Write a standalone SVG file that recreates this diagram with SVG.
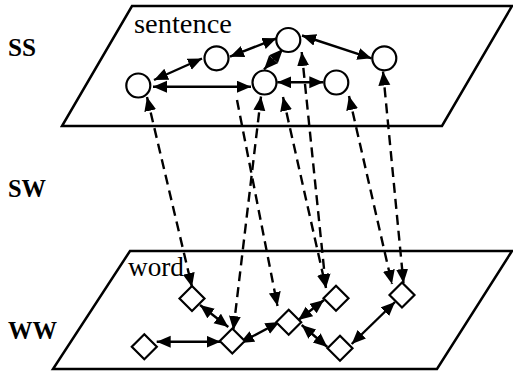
<svg xmlns="http://www.w3.org/2000/svg" width="513" height="374" viewBox="0 0 513 374">
  <style>
    .plane { fill: #fff; stroke: #000; stroke-width: 2.5; }
    .node { fill: #fff; stroke: #000; stroke-width: 2.2; }
    .link { fill: none; stroke: #000; stroke-width: 2.4; }
    .dash { stroke-dasharray: 10 6; }
    .lbl { font-family: "Liberation Serif", "Times New Roman", "DejaVu Serif", serif; fill: #000; }
    .side { font-size: 25px; font-weight: bold; }
    .plabel { font-size: 28px; }
  </style>
  <defs>
    <marker id="head" markerUnits="userSpaceOnUse" markerWidth="15" markerHeight="13" refX="14" refY="6" orient="auto-start-reverse">
      <path d="M0,0 L14,6 L0,12 z" fill="#000"/>
    </marker>
  </defs>

  <rect width="513" height="374" fill="#fff"/>

  <!-- layer labels -->
  <text class="lbl side" x="8" y="56" textLength="28" lengthAdjust="spacingAndGlyphs">SS</text>
  <text class="lbl side" x="8" y="197" textLength="38" lengthAdjust="spacingAndGlyphs">SW</text>
  <text class="lbl side" x="8" y="339" textLength="49" lengthAdjust="spacingAndGlyphs">WW</text>

  <!-- planes -->
  <g id="plane-sentence">
    <polygon class="plane" points="132,6 512,6 442,126 62,126"/>
    <text class="lbl plabel" x="134" y="32.5" textLength="98" lengthAdjust="spacingAndGlyphs">sentence</text>
  </g>
  <g id="plane-word">
    <polygon class="plane" points="130,251 512,251 437,369 53,369"/>
    <text class="lbl plabel" x="128" y="275.5" textLength="56" lengthAdjust="spacingAndGlyphs">word</text>
  </g>

  <!-- connectors -->
  <g id="connectors">
    <!-- sentence level -->
    <line class="link" x1="154" y1="80" x2="202" y2="58.5" marker-start="url(#head)" marker-end="url(#head)"/>
    <line class="link" x1="153" y1="86.7" x2="251" y2="86.7" marker-start="url(#head)" marker-end="url(#head)"/>
    <line class="link" x1="230" y1="56.7" x2="276.5" y2="38.3" marker-start="url(#head)" marker-end="url(#head)"/>
    <line class="link" x1="283" y1="49" x2="264" y2="69.5" marker-start="url(#head)" marker-end="url(#head)"/>
    <line class="link" x1="302" y1="35.5" x2="371.5" y2="58.3" marker-start="url(#head)" marker-end="url(#head)"/>
    <line class="link" x1="277.3" y1="82.3" x2="323.3" y2="82.3" marker-start="url(#head)" marker-end="url(#head)"/>

    <!-- word level -->
    <line class="link" x1="200" y1="305" x2="228.3" y2="327" marker-start="url(#head)" marker-end="url(#head)"/>
    <line class="link" x1="156.7" y1="341.7" x2="220.5" y2="341.7" marker-start="url(#head)" marker-end="url(#head)"/>
    <line class="link" x1="240" y1="343" x2="279.5" y2="322" marker-start="url(#head)" marker-end="url(#head)"/>
    <line class="link" x1="298.3" y1="320" x2="324" y2="300" marker-start="url(#head)" marker-end="url(#head)"/>
    <line class="link" x1="301.7" y1="325" x2="327.3" y2="347" marker-start="url(#head)" marker-end="url(#head)"/>
    <line class="link" x1="351.7" y1="344" x2="395" y2="302" marker-start="url(#head)" marker-end="url(#head)"/>

    <!-- between levels -->
    <line class="link dash" x1="147" y1="97" x2="192" y2="287" marker-start="url(#head)" marker-end="url(#head)"/>
    <line class="link dash" x1="237" y1="100" x2="277.5" y2="306" marker-end="url(#head)"/>
    <line class="link dash" x1="261" y1="96.5" x2="233.3" y2="330" marker-start="url(#head)" marker-end="url(#head)"/>
    <line class="link dash" x1="283" y1="97" x2="326" y2="288" marker-start="url(#head)" marker-end="url(#head)"/>
    <line class="link dash" x1="301.7" y1="52" x2="326" y2="288" marker-start="url(#head)" marker-end="url(#head)"/>
    <line class="link dash" x1="349" y1="96" x2="392" y2="284" marker-start="url(#head)" marker-end="url(#head)"/>
    <line class="link dash" x1="383" y1="71.5" x2="403.5" y2="283" marker-start="url(#head)" marker-end="url(#head)"/>
  </g>

  <!-- sentence nodes -->
  <g id="s1"><circle class="node" cx="138.3" cy="85.5" r="12"/></g>
  <g id="s2"><circle class="node" cx="216.5" cy="58.3" r="12"/></g>
  <g id="s3"><circle class="node" cx="288.3" cy="40" r="12"/></g>
  <g id="s4"><circle class="node" cx="264.5" cy="82.5" r="12"/></g>
  <g id="s5"><circle class="node" cx="336.3" cy="82.5" r="12"/></g>
  <g id="s6"><circle class="node" cx="384.3" cy="58.3" r="12"/></g>

  <!-- word nodes -->
  <g id="w1"><polygon class="node" points="192,286 204.5,298.5 192,311 179.5,298.5"/></g>
  <g id="w2"><polygon class="node" points="144.3,334.2 156.8,346.7 144.3,359.2 131.8,346.7"/></g>
  <g id="w3"><polygon class="node" points="232.3,328.5 244.8,341 232.3,353.5 219.8,341"/></g>
  <g id="w4"><polygon class="node" points="288.7,309.8 301.2,322.3 288.7,334.8 276.2,322.3"/></g>
  <g id="w5"><polygon class="node" points="336,285.8 348.5,298.3 336,310.8 323.5,298.3"/></g>
  <g id="w6"><polygon class="node" points="340,335.8 352.5,348.3 340,360.8 327.5,348.3"/></g>
  <g id="w7"><polygon class="node" points="402,282.5 414.5,295 402,307.5 389.5,295"/></g>
</svg>
